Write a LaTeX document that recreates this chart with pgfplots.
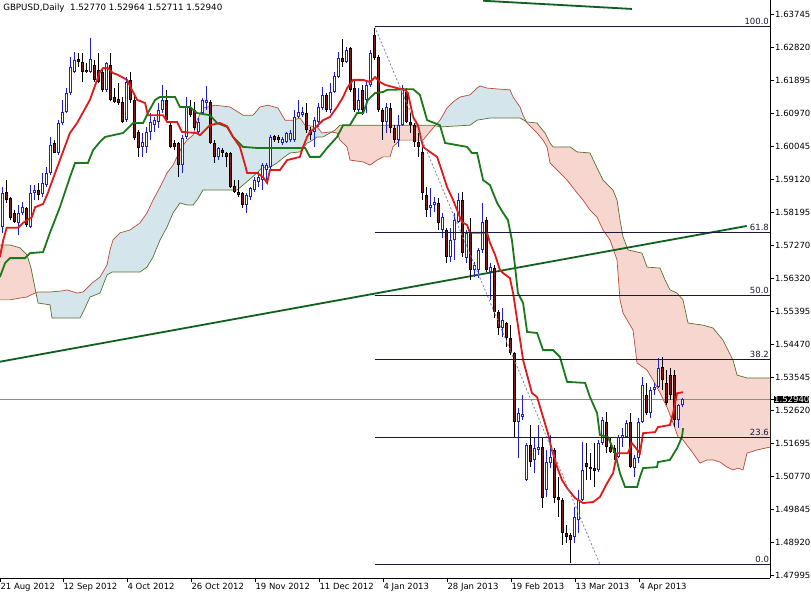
\documentclass[border=0pt]{standalone}
\usepackage{fontspec}
\setmainfont{DejaVu Sans}
\usepackage{pgfplots}
\pgfplotsset{compat=1.18}
\usepackage{pgfplotstable}

\definecolor{tenkan}{RGB}{225,25,25}
\definecolor{kijun}{RGB}{25,120,25}
\definecolor{trend}{RGB}{15,95,30}
\definecolor{spanA}{RGB}{185,75,55}
\definecolor{spanB}{RGB}{85,115,45}
\definecolor{cloudred}{RGB}{247,214,207}
\definecolor{cloudblue}{RGB}{212,230,235}
\definecolor{bull}{RGB}{30,30,210}
\definecolor{bearfill}{RGB}{125,30,30}
\definecolor{fibc}{RGB}{25,25,60}
\definecolor{fibdiag}{RGB}{120,135,175}
\definecolor{pricel}{RGB}{140,140,140}

\newcommand\axfont{\fontsize{8.5}{10}\selectfont}
\pgfplotsset{candle/.style={only marks, mark=*, mark size=0pt, mark options={draw=none, fill=none}}}

\pgfplotstableread{
i t o h l c
0 1 1.5777 1.5889 1.5761 1.5873
1 0 1.5875 1.5909 1.5845 1.5853
2 0 1.5859 1.5861 1.5797 1.5803
3 0 1.5817 1.5825 1.5789 1.5791
4 1 1.5789 1.5839 1.5755 1.5817
5 1 1.5817 1.5847 1.5811 1.5833
6 0 1.5831 1.5833 1.5777 1.5783
7 1 1.5777 1.5895 1.5775 1.5873
8 1 1.5873 1.5895 1.5853 1.5881
9 0 1.5881 1.5901 1.5853 1.5867
10 1 1.5870 1.5929 1.5861 1.5901
11 1 1.5895 1.5945 1.5889 1.5929
12 1 1.5929 1.6029 1.5923 1.6007
13 0 1.6013 1.6021 1.5985 1.5985
14 1 1.5985 1.6077 1.5980 1.6069
15 1 1.6069 1.6134 1.6063 1.6100
16 1 1.6100 1.6167 1.6097 1.6153
17 1 1.6153 1.6254 1.6148 1.6226
18 1 1.6212 1.6268 1.6209 1.6246
19 0 1.6249 1.6265 1.6226 1.6240
20 0 1.6240 1.6265 1.6184 1.6212
21 0 1.6218 1.6237 1.6209 1.6212
22 1 1.6212 1.6307 1.6209 1.6249
23 0 1.6232 1.6246 1.6184 1.6190
24 0 1.6218 1.6265 1.6181 1.6184
25 0 1.6212 1.6223 1.6156 1.6162
26 1 1.6162 1.6240 1.6156 1.6237
27 0 1.6232 1.6265 1.6130 1.6134
28 0 1.6142 1.6167 1.6125 1.6128
29 0 1.6136 1.6181 1.6119 1.6125
30 0 1.6128 1.6142 1.6069 1.6072
31 1 1.6077 1.6198 1.6072 1.6184
32 0 1.6190 1.6212 1.6125 1.6134
33 0 1.6134 1.6153 1.6021 1.6027
34 0 1.6044 1.6049 1.5974 1.5999
35 1 1.6002 1.6041 1.5974 1.6016
36 1 1.6002 1.6058 1.5985 1.6044
37 1 1.6044 1.6097 1.6021 1.6072
38 1 1.6063 1.6086 1.6044 1.6077
39 1 1.6072 1.6125 1.6055 1.6105
40 1 1.6105 1.6176 1.6097 1.6134
41 0 1.6134 1.6162 1.6072 1.6077
42 0 1.6063 1.6072 1.5999 1.6002
43 0 1.6013 1.6021 1.5993 1.6002
44 0 1.6013 1.6016 1.5917 1.5951
45 1 1.5951 1.6035 1.5929 1.6027
46 1 1.6030 1.6142 1.6025 1.6114
47 0 1.6111 1.6134 1.6086 1.6091
48 0 1.6105 1.6128 1.6049 1.6055
49 1 1.6044 1.6083 1.6035 1.6072
50 1 1.6097 1.6139 1.6091 1.6134
51 1 1.6125 1.6173 1.6105 1.6134
52 0 1.6128 1.6134 1.6010 1.6013
53 0 1.6013 1.6021 1.5957 1.5974
54 1 1.5974 1.6002 1.5965 1.5999
55 0 1.5993 1.5999 1.5974 1.5985
56 0 1.5985 1.5988 1.5945 1.5974
57 0 1.5985 1.5988 1.5887 1.5889
58 0 1.5892 1.5909 1.5873 1.5875
59 0 1.5875 1.5909 1.5861 1.5867
60 0 1.5873 1.5875 1.5831 1.5839
61 1 1.5839 1.5873 1.5817 1.5867
62 1 1.5861 1.5889 1.5853 1.5887
63 1 1.5881 1.5917 1.5875 1.5909
64 1 1.5903 1.5931 1.5889 1.5917
65 1 1.5909 1.5957 1.5881 1.5951
66 1 1.5937 1.5957 1.5909 1.5951
67 1 1.5945 1.6035 1.5937 1.6029
68 0 1.6032 1.6035 1.6016 1.6021
69 0 1.6029 1.6035 1.6013 1.6021
70 1 1.6013 1.6029 1.6007 1.6024
71 1 1.6016 1.6044 1.6013 1.6041
72 1 1.6021 1.6049 1.6016 1.6041
73 1 1.6021 1.6105 1.6016 1.6086
74 1 1.6086 1.6134 1.6083 1.6100
75 1 1.6091 1.6114 1.6086 1.6100
76 0 1.6097 1.6125 1.6041 1.6049
77 0 1.6049 1.6058 1.6021 1.6035
78 1 1.6044 1.6086 1.6002 1.6077
79 1 1.6072 1.6125 1.6058 1.6114
80 1 1.6111 1.6170 1.6105 1.6148
81 0 1.6148 1.6153 1.6100 1.6105
82 1 1.6105 1.6181 1.6097 1.6156
83 1 1.6156 1.6212 1.6153 1.6201
84 1 1.6198 1.6268 1.6195 1.6251
85 0 1.6251 1.6305 1.6226 1.6240
86 1 1.6240 1.6282 1.6237 1.6274
87 0 1.6279 1.6282 1.6156 1.6162
88 0 1.6167 1.6190 1.6100 1.6105
89 1 1.6105 1.6167 1.6100 1.6134
90 0 1.6162 1.6176 1.6091 1.6105
91 1 1.6134 1.6184 1.6097 1.6176
92 1 1.6176 1.6274 1.6170 1.6265
93 0 1.6316 1.6336 1.6246 1.6251
94 0 1.6254 1.6260 1.6100 1.6105
95 0 1.6105 1.6111 1.6021 1.6072
96 1 1.6072 1.6125 1.6041 1.6114
97 0 1.6111 1.6125 1.6041 1.6055
98 0 1.6055 1.6063 1.6013 1.6021
99 1 1.6021 1.6091 1.6002 1.6063
100 1 1.6063 1.6176 1.6060 1.6167
101 0 1.6156 1.6167 1.6069 1.6072
102 0 1.6072 1.6097 1.6041 1.6063
103 0 1.6063 1.6069 1.6002 1.6016
104 0 1.6016 1.6041 1.5974 1.6002
105 0 1.5988 1.6002 1.5853 1.5873
106 0 1.5867 1.5889 1.5805 1.5825
107 1 1.5831 1.5887 1.5805 1.5839
108 1 1.5839 1.5861 1.5819 1.5847
109 0 1.5845 1.5859 1.5769 1.5789
110 1 1.5769 1.5817 1.5747 1.5805
111 0 1.5769 1.5775 1.5676 1.5693
112 1 1.5693 1.5775 1.5679 1.5741
113 1 1.5741 1.5817 1.5685 1.5797
114 1 1.5791 1.5873 1.5789 1.5853
115 0 1.5853 1.5875 1.5693 1.5704
116 1 1.5690 1.5769 1.5676 1.5761
117 0 1.5761 1.5803 1.5629 1.5657
118 1 1.5657 1.5679 1.5637 1.5671
119 1 1.5657 1.5719 1.5634 1.5713
120 1 1.5713 1.5845 1.5704 1.5791
121 0 1.5797 1.5805 1.5651 1.5657
122 1 1.5651 1.5676 1.5573 1.5665
123 0 1.5662 1.5671 1.5522 1.5539
124 0 1.5539 1.5544 1.5474 1.5494
125 1 1.5494 1.5550 1.5469 1.5516
126 0 1.5508 1.5511 1.5441 1.5466
127 0 1.5466 1.5502 1.5418 1.5424
128 0 1.5424 1.5427 1.5188 1.5230
129 1 1.5230 1.5269 1.5129 1.5255
130 1 1.5244 1.5306 1.5236 1.5253
131 1 1.5068 1.5171 1.5065 1.5166
132 0 1.5166 1.5222 1.5104 1.5118
133 1 1.5124 1.5188 1.5087 1.5157
134 1 1.5152 1.5222 1.5138 1.5160
135 0 1.5160 1.5188 1.4989 1.5017
136 1 1.5040 1.5152 1.5020 1.5118
137 1 1.5115 1.5194 1.5101 1.5132
138 0 1.5152 1.5157 1.5003 1.5017
139 0 1.5020 1.5076 1.4964 1.5012
140 0 1.5012 1.5017 1.4885 1.4919
141 0 1.4919 1.4941 1.4891 1.4908
142 0 1.4913 1.4919 1.4834 1.4899
143 1 1.4908 1.4992 1.4891 1.4964
144 1 1.4955 1.5040 1.4919 1.5012
145 1 1.5012 1.5174 1.5009 1.5096
146 0 1.5115 1.5171 1.5068 1.5104
147 0 1.5104 1.5143 1.5068 1.5098
148 0 1.5101 1.5171 1.5048 1.5093
149 1 1.5096 1.5180 1.5090 1.5171
150 1 1.5171 1.5244 1.5166 1.5236
151 0 1.5230 1.5258 1.5143 1.5160
152 0 1.5160 1.5188 1.5143 1.5146
153 0 1.5157 1.5166 1.5124 1.5143
154 1 1.5132 1.5194 1.5129 1.5188
155 1 1.5185 1.5213 1.5160 1.5194
156 1 1.5188 1.5236 1.5185 1.5227
157 0 1.5230 1.5255 1.5101 1.5104
158 1 1.5101 1.5138 1.5076 1.5129
159 1 1.5129 1.5241 1.5115 1.5230
160 1 1.5230 1.5357 1.5227 1.5334
161 0 1.5306 1.5340 1.5250 1.5255
162 1 1.5255 1.5329 1.5241 1.5320
163 1 1.5320 1.5340 1.5306 1.5329
164 1 1.5329 1.5410 1.5326 1.5382
165 0 1.5385 1.5413 1.5320 1.5348
166 0 1.5340 1.5376 1.5278 1.5283
167 0 1.5362 1.5382 1.5292 1.5306
168 0 1.5362 1.5376 1.5216 1.5236
169 1 1.5236 1.5281 1.5213 1.5278
170 1 1.52770 1.52964 1.52711 1.52940
}\candles

\pgfplotstableread{
i p
-0.7 1.5693
0.15 1.5741
1.0 1.5775
3.8 1.5775
5.1 1.5789
7.3 1.5805
8.1 1.5833
10.1 1.5842
11.3 1.5873
11.8 1.5889
14.3 1.5965
16.8 1.6041
18.6 1.6069
21.8 1.6134
23.6 1.6190
24.3 1.6212
25.1 1.6223
26.3 1.6223
27.6 1.6209
28.8 1.6204
31.1 1.6190
32.3 1.6162
33.6 1.6134
35.6 1.6125
36.3 1.6091
40.1 1.6091
41.1 1.6072
43.6 1.6072
44.8 1.6044
48.5 1.6041
49.3 1.6035
51.8 1.6063
54.3 1.6069
56.1 1.6060
57.6 1.6030
59.3 1.6002
60.6 1.5951
61.1 1.5929
63.6 1.5929
65.1 1.5917
66.1 1.5901
66.8 1.5937
69.3 1.5937
71.1 1.5965
74.3 1.5974
75.1 1.6002
76.1 1.6030
76.8 1.6044
78.1 1.6055
80.1 1.6077
81.8 1.6086
83.6 1.6114
85.1 1.6142
86.1 1.6167
87.6 1.6190
90.1 1.6190
91.8 1.6184
93.1 1.6198
94.3 1.6184
95.6 1.6176
98.6 1.6167
100.6 1.6162
101.3 1.6153
102.6 1.6086
103.8 1.6063
105.1 1.6002
106.8 1.5988
108.6 1.5974
109.3 1.5951
111.1 1.5889
112.6 1.5853
113.8 1.5819
114.8 1.5791
116.1 1.5783
116.8 1.5761
121.1 1.5761
121.8 1.5733
123.1 1.5699
124.3 1.5657
125.1 1.5648
126.8 1.5634
127.6 1.5592
130.1 1.5404
132.3 1.5312
133.6 1.5300
135.1 1.5244
136.3 1.5199
137.3 1.5152
138.6 1.5104
139.8 1.5068
141.1 1.5045
143.1 1.5017
145.1 1.5003
147.6 1.5006
149.3 1.5020
151.1 1.5059
152.6 1.5087
153.6 1.5143
156.3 1.5143
157.3 1.5171
158.1 1.5160
159.3 1.5143
160.1 1.5199
163.1 1.5202
163.8 1.5216
166.8 1.5222
167.6 1.5255
168.6 1.5311
170.1 1.5314
}\tenkan

\pgfplotstableread{
i p
-0.7 1.5637
0.6 1.5676
1.8 1.5690
5.6 1.5690
6.8 1.5704
10.1 1.5707
11.8 1.5761
14.3 1.5833
16.8 1.5917
18.1 1.5957
21.3 1.5957
22.6 1.5993
24.3 1.6016
25.6 1.6030
30.1 1.6041
32.6 1.6069
35.1 1.6069
36.3 1.6097
38.1 1.6134
39.3 1.6142
43.1 1.6142
44.3 1.6114
46.8 1.6114
48.6 1.6097
51.8 1.6091
53.6 1.6069
56.1 1.6058
57.6 1.6030
60.1 1.6002
63.6 1.5999
75.6 1.5999
76.8 1.5974
79.3 1.5974
81.1 1.5999
83.6 1.6030
85.1 1.6063
86.8 1.6063
88.6 1.6097
90.1 1.6097
91.3 1.6134
93.1 1.6153
95.1 1.6156
96.1 1.6162
102.6 1.6164
104.3 1.6148
106.1 1.6077
109.3 1.6063
110.6 1.6013
116.1 1.6002
117.3 1.5985
118.6 1.5985
120.1 1.5909
121.8 1.5895
123.6 1.5845
125.1 1.5817
126.3 1.5797
127.3 1.5741
128.1 1.5665
128.8 1.5592
130.1 1.5564
131.1 1.5483
133.6 1.5480
135.1 1.5432
137.6 1.5432
139.3 1.5413
141.1 1.5343
145.6 1.5340
146.8 1.5301
148.6 1.5255
149.3 1.5194
151.3 1.5188
153.1 1.5143
154.3 1.5087
155.6 1.5048
158.6 1.5048
159.3 1.5076
160.1 1.5101
163.6 1.5104
163.8 1.5118
166.8 1.5124
168.6 1.5157
169.8 1.5188
170.1 1.5213
}\kijun

\pgfplotstableread{
i p
-0.68 1.5573
1.83 1.5573
4.33 1.5578
6.08 1.5581
7.08 1.5587
8.08 1.5592
8.83 1.5595
11.83 1.5595
14.83 1.5598
16.08 1.5601
18.58 1.5592
20.08 1.5595
22.33 1.5620
24.33 1.5637
26.08 1.5671
26.83 1.5713
27.58 1.5741
29.33 1.5761
31.83 1.5769
34.33 1.5789
36.08 1.5817
37.58 1.5853
39.33 1.5889
41.08 1.5929
42.58 1.5951
43.58 1.5974
44.83 1.6002
46.08 1.6021
47.58 1.6035
48.58 1.6077
50.08 1.6111
53.08 1.6119
56.83 1.6114
60.08 1.6091
62.58 1.6091
64.33 1.6114
66.33 1.6119
68.83 1.6111
70.58 1.6077
72.58 1.6077
74.33 1.6083
75.58 1.6063
78.58 1.6058
79.83 1.6041
81.83 1.6044
83.58 1.6041
84.33 1.6021
86.08 1.6002
86.83 1.5965
90.08 1.5960
91.83 1.5951
93.58 1.5965
95.08 1.5974
96.83 1.5974
97.58 1.6002
99.33 1.6021
105.08 1.6021
107.58 1.6055
109.33 1.6077
111.08 1.6111
112.58 1.6128
114.33 1.6142
116.83 1.6148
118.58 1.6167
119.33 1.6173
121.08 1.6167
124.33 1.6164
126.83 1.6162
127.58 1.6142
129.33 1.6114
130.08 1.6091
131.08 1.6069
133.58 1.6041
135.08 1.6021
136.08 1.6002
136.83 1.5957
139.33 1.5929
141.08 1.5909
143.58 1.5873
145.08 1.5853
146.83 1.5825
148.58 1.5805
150.08 1.5769
151.83 1.5741
153.58 1.5685
154.33 1.5573
155.08 1.5536
157.58 1.5488
158.58 1.5396
161.08 1.5376
162.58 1.5348
164.33 1.5312
166.08 1.5272
167.58 1.5228
168.83 1.5188
170.08 1.5180
172.58 1.5143
174.33 1.5115
176.08 1.5124
177.58 1.5124
179.33 1.5118
181.08 1.5104
182.58 1.5096
183.83 1.5101
185.08 1.5096
186.08 1.5143
188.58 1.5152
191.83 1.5160
}\spanA

\pgfplotstableread{
i p
-0.68 1.5727
1.83 1.5727
4.33 1.5719
6.08 1.5699
7.08 1.5662
8.08 1.5606
8.83 1.5564
11.83 1.5559
12.33 1.5522
19.33 1.5522
20.58 1.5550
21.83 1.5581
24.33 1.5592
26.08 1.5643
27.33 1.5651
34.33 1.5651
36.08 1.5665
37.58 1.5693
39.33 1.5741
41.08 1.5777
42.58 1.5817
44.33 1.5845
46.08 1.5839
47.58 1.5839
48.58 1.5853
50.08 1.5881
58.58 1.5881
60.08 1.5895
63.58 1.5929
64.83 1.5943
66.83 1.5945
68.58 1.5957
70.08 1.5971
71.83 1.5985
74.33 1.5988
76.08 1.6013
76.83 1.6016
78.58 1.6030
80.08 1.6030
81.83 1.6041
83.08 1.6049
84.33 1.6063
107.58 1.6063
109.33 1.6058
116.83 1.6063
118.58 1.6077
121.83 1.6083
129.33 1.6083
131.08 1.6072
133.58 1.6069
134.33 1.6058
135.58 1.6041
136.83 1.6013
137.58 1.6002
141.83 1.6002
143.58 1.5988
146.83 1.5985
148.58 1.5943
150.08 1.5909
152.58 1.5881
153.58 1.5853
154.33 1.5797
155.08 1.5750
156.33 1.5713
159.83 1.5704
161.08 1.5665
164.33 1.5662
165.58 1.5629
166.83 1.5601
168.58 1.5592
170.08 1.5573
171.33 1.5508
175.08 1.5502
177.58 1.5494
180.08 1.5460
182.58 1.5404
183.58 1.5362
186.08 1.5354
191.83 1.5354
}\spanB

\begin{document}
\begin{tikzpicture}[x=1pt,y=1pt]
\useasboundingbox (0,0) rectangle (811,594);
\fill[white] (0,0) rectangle (811,594);
\begin{axis}[
  at={(0pt,16pt)}, anchor=south west,
  scale only axis, width=770pt, height=578pt,
  xmin=-0.675, xmax=191.825, ymin=1.47928, ymax=1.64141,
  axis x line*=bottom, axis y line*=right,
  axis line style={-, line width=0.9pt, black},
  tick style={black, line width=0.8pt},
  tick align=outside, major tick length=4pt,
  xtick={-0.6,15.15,31.15,47.15,63.15,79.15,95.15,111.15,127.15,143.15,159.15},
  xticklabels={21 Aug 2012,12 Sep 2012,4 Oct 2012,26 Oct 2012,19 Nov 2012,11 Dec 2012,4 Jan 2013,28 Jan 2013,19 Feb 2013,13 Mar 2013,4 Apr 2013},
  xticklabel style={anchor=north west, inner sep=0pt, xshift=0pt, yshift=-1pt, font=\axfont},
  ytick={1.63745,1.62820,1.61895,1.60970,1.60045,1.59120,1.58195,1.57270,1.56320,1.55395,1.54470,1.53545,1.52620,1.51695,1.50770,1.49845,1.48920,1.47995},
  yticklabels={1.63745,1.62820,1.61895,1.60970,1.60045,1.59120,1.58195,1.57270,1.56320,1.55395,1.54470,1.53545,1.52620,1.51695,1.50770,1.49845,1.48920,1.47995},
  yticklabel style={anchor=west, inner sep=0pt, xshift=1pt, font=\axfont},
  extra y ticks={1.5294}, extra y tick labels={1.52940},
  extra y tick style={tick label style={fill=black, text=white, inner xsep=1pt, inner ysep=1.5pt, xshift=-1pt}},
  clip=true,
]
% Ichimoku cloud (area between Senkou A and Senkou B)
\addplot[fill=cloudred, draw=none] coordinates {
(-0.68,1.5573) (1.83,1.5573) (4.33,1.5578) (6.08,1.5581) (7.08,1.5587) (8.08,1.5592) (8.31,1.5593)
(8.08,1.5606) (7.08,1.5662) (6.08,1.5699) (4.33,1.5719) (1.83,1.5727) (-0.68,1.5727)} -- cycle;
\addplot[fill=cloudblue, draw=none] coordinates {
(8.31,1.5593) (8.83,1.5595) (11.83,1.5595) (14.83,1.5598) (16.08,1.5601) (18.58,1.5592) (20.08,1.5595) (22.33,1.5620) (24.33,1.5637) (26.08,1.5671) (26.83,1.5713) (27.58,1.5741) (29.33,1.5761) (31.83,1.5769) (34.33,1.5789) (36.08,1.5817) (37.58,1.5853) (39.33,1.5889) (41.08,1.5929) (42.58,1.5951) (43.58,1.5974) (44.83,1.6002) (46.08,1.6021) (47.58,1.6035) (48.58,1.6077) (50.08,1.6111) (53.08,1.6119) (56.83,1.6114) (60.08,1.6091) (62.58,1.6091) (64.33,1.6114) (66.33,1.6119) (68.83,1.6111) (70.58,1.6077) (72.58,1.6077) (74.33,1.6083) (75.58,1.6063) (78.58,1.6058) (79.83,1.6041) (81.83,1.6044) (82.2,1.6043)
(81.83,1.6041) (80.08,1.6030) (78.58,1.6030) (76.83,1.6016) (76.08,1.6013) (74.33,1.5988) (71.83,1.5985) (70.08,1.5971) (68.58,1.5957) (66.83,1.5945) (64.83,1.5943) (63.58,1.5929) (60.08,1.5895) (58.58,1.5881) (50.08,1.5881) (48.58,1.5853) (47.58,1.5839) (46.08,1.5839) (44.33,1.5845) (42.58,1.5817) (41.08,1.5777) (39.33,1.5741) (37.58,1.5693) (36.08,1.5665) (34.33,1.5651) (27.33,1.5651) (26.08,1.5643) (24.33,1.5592) (21.83,1.5581) (20.58,1.5550) (19.33,1.5522) (12.33,1.5522) (11.83,1.5559) (8.83,1.5564)} -- cycle;
\addplot[fill=cloudred, draw=none] coordinates {
(82.2,1.6043) (83.58,1.6041) (84.33,1.6021) (86.08,1.6002) (86.83,1.5965) (90.08,1.5960) (91.83,1.5951) (93.58,1.5965) (95.08,1.5974) (96.83,1.5974) (97.58,1.6002) (99.33,1.6021) (105.08,1.6021) (107.58,1.6055) (108.1,1.6062)
(107.58,1.6063) (84.33,1.6063) (83.08,1.6049)} -- cycle;
\addplot[fill=cloudblue, draw=none] coordinates {
(108.1,1.6062) (109.33,1.6077) (111.08,1.6111) (112.58,1.6128) (114.33,1.6142) (116.83,1.6148) (118.58,1.6167) (119.33,1.6173) (121.08,1.6167) (124.33,1.6164) (126.83,1.6162) (127.58,1.6142) (129.33,1.6114) (130.08,1.6091) (130.89,1.6073)
(129.33,1.6083) (121.83,1.6083) (118.58,1.6077) (116.83,1.6063) (109.33,1.6058)} -- cycle;
\addplot[fill=cloudred, draw=none] coordinates {
(130.89,1.6073) (131.08,1.6069) (133.58,1.6041) (135.08,1.6021) (136.08,1.6002) (136.83,1.5957) (139.33,1.5929) (141.08,1.5909) (143.58,1.5873) (145.08,1.5853) (146.83,1.5825) (148.58,1.5805) (150.08,1.5769) (151.83,1.5741) (153.58,1.5685) (154.33,1.5573) (155.08,1.5536) (157.58,1.5488) (158.58,1.5396) (161.08,1.5376) (162.58,1.5348) (164.33,1.5312) (166.08,1.5272) (167.58,1.5228) (168.83,1.5188) (170.08,1.5180) (172.58,1.5143) (174.33,1.5115) (176.08,1.5124) (177.58,1.5124) (179.33,1.5118) (181.08,1.5104) (182.58,1.5096) (183.83,1.5101) (185.08,1.5096) (186.08,1.5143) (188.58,1.5152) (191.83,1.5160)
(191.83,1.5354) (186.08,1.5354) (183.58,1.5362) (182.58,1.5404) (180.08,1.5460) (177.58,1.5494) (175.08,1.5502) (171.33,1.5508) (170.08,1.5573) (168.58,1.5592) (166.83,1.5601) (165.58,1.5629) (164.33,1.5662) (161.08,1.5665) (159.83,1.5704) (156.33,1.5713) (155.08,1.5750) (154.33,1.5797) (153.58,1.5853) (152.58,1.5881) (150.08,1.5909) (148.58,1.5943) (146.83,1.5985) (143.58,1.5988) (141.83,1.6002) (137.58,1.6002) (136.83,1.6013) (135.58,1.6041) (134.33,1.6058) (133.58,1.6069) (131.08,1.6072)} -- cycle;
\addplot[spanA, line width=0.7pt, sharp plot] table[x=i,y=p] \spanA;
\addplot[spanB, line width=0.7pt, sharp plot] table[x=i,y=p] \spanB;

% current price line and trend lines
\addplot[pricel, line width=0.8pt] coordinates {(-0.675,1.5294) (191.825,1.5294)};
\addplot[trend, line width=1.8pt] coordinates {(-0.675,1.53995) (186.0,1.57802)};
\addplot[trend, line width=1.8pt] coordinates {(120.1,1.6412) (157.3,1.6389)};

% candles: wicks
\addplot[candle, restrict expr to domain={\thisrow{t}}{0.5:1.5},
  error bars/.cd, y dir=plus, y explicit, error mark=none,
  error bar style={line width=1pt, color=bull}]
  table[x=i, y=l, y error plus expr={\thisrow{h}-\thisrow{l}}] \candles;
\addplot[candle, restrict expr to domain={\thisrow{t}}{-0.5:0.5},
  error bars/.cd, y dir=plus, y explicit, error mark=none,
  error bar style={line width=1pt, color=black}]
  table[x=i, y=l, y error plus expr={\thisrow{h}-\thisrow{l}}] \candles;
% bodies
\addplot[candle, restrict expr to domain={\thisrow{t}}{0.5:1.5},
  error bars/.cd, y dir=plus, y explicit, error mark=none,
  error bar style={line width=3pt, color=bull}]
  table[x=i, y=o, y error plus expr={max(\thisrow{c}-\thisrow{o},0.0003)}] \candles;
\addplot[candle, restrict expr to domain={\thisrow{t}}{0.5:1.5},
  error bars/.cd, y dir=plus, y explicit, error mark=none,
  error bar style={line width=1pt, color=white}]
  table[x=i, y expr={\thisrow{o}+0.00028}, y error plus expr={max(\thisrow{c}-\thisrow{o}-0.00056,0)}] \candles;
\addplot[candle, restrict expr to domain={\thisrow{t}}{-0.5:0.5},
  error bars/.cd, y dir=plus, y explicit, error mark=none,
  error bar style={line width=3pt, color=black}]
  table[x=i, y=c, y error plus expr={max(\thisrow{o}-\thisrow{c},0.0003)}] \candles;
\addplot[candle, restrict expr to domain={\thisrow{t}}{-0.5:0.5},
  error bars/.cd, y dir=plus, y explicit, error mark=none,
  error bar style={line width=1pt, color=bearfill}]
  table[x=i, y expr={\thisrow{c}+0.00028}, y error plus expr={max(\thisrow{o}-\thisrow{c}-0.00056,0)}] \candles;

% Tenkan / Kijun
\addplot[kijun, line width=1.8pt, sharp plot] table[x=i,y=p] \kijun;
\addplot[tenkan, line width=1.8pt, sharp plot] table[x=i,y=p] \tenkan;

% Fibonacci retracement
\addplot[fibdiag, line width=0.8pt, dash pattern=on 2pt off 2pt] coordinates {(93,1.63392) (149.3,1.48312)};
\addplot[fibc, line width=0.8pt] coordinates {(93,1.63392) (191.825,1.63392)};
\addplot[fibc, line width=0.8pt] coordinates {(93,1.57631) (191.825,1.57631)};
\addplot[fibc, line width=0.8pt] coordinates {(93,1.55852) (191.825,1.55852)};
\addplot[fibc, line width=0.8pt] coordinates {(93,1.54073) (191.825,1.54073)};
\addplot[fibc, line width=0.8pt] coordinates {(93,1.51871) (191.825,1.51871)};
\addplot[fibc, line width=0.8pt] coordinates {(93,1.48312) (191.825,1.48312)};
\node[anchor=south east, inner sep=0pt, font=\axfont, text=fibc, yshift=1.5pt] at (axis cs:191.6,1.63392) {100.0};
\node[anchor=south east, inner sep=0pt, font=\axfont, text=fibc, yshift=1.5pt] at (axis cs:191.6,1.57631) {61.8};
\node[anchor=south east, inner sep=0pt, font=\axfont, text=fibc, yshift=1.5pt] at (axis cs:191.6,1.55852) {50.0};
\node[anchor=south east, inner sep=0pt, font=\axfont, text=fibc, yshift=1.5pt] at (axis cs:191.6,1.54073) {38.2};
\node[anchor=south east, inner sep=0pt, font=\axfont, text=fibc, yshift=1.5pt] at (axis cs:191.6,1.51871) {23.6};
\node[anchor=south east, inner sep=0pt, font=\axfont, text=fibc, yshift=1.5pt] at (axis cs:191.6,1.48312) {0.0};

% title
\node[anchor=north west, inner sep=0pt, font=\fontsize{8.7}{10}\selectfont] at (rel axis cs:0.004,0.994) {GBPUSD,Daily\ \ 1.52770 1.52964 1.52711 1.52940};
\end{axis}
\end{tikzpicture}
\end{document}
